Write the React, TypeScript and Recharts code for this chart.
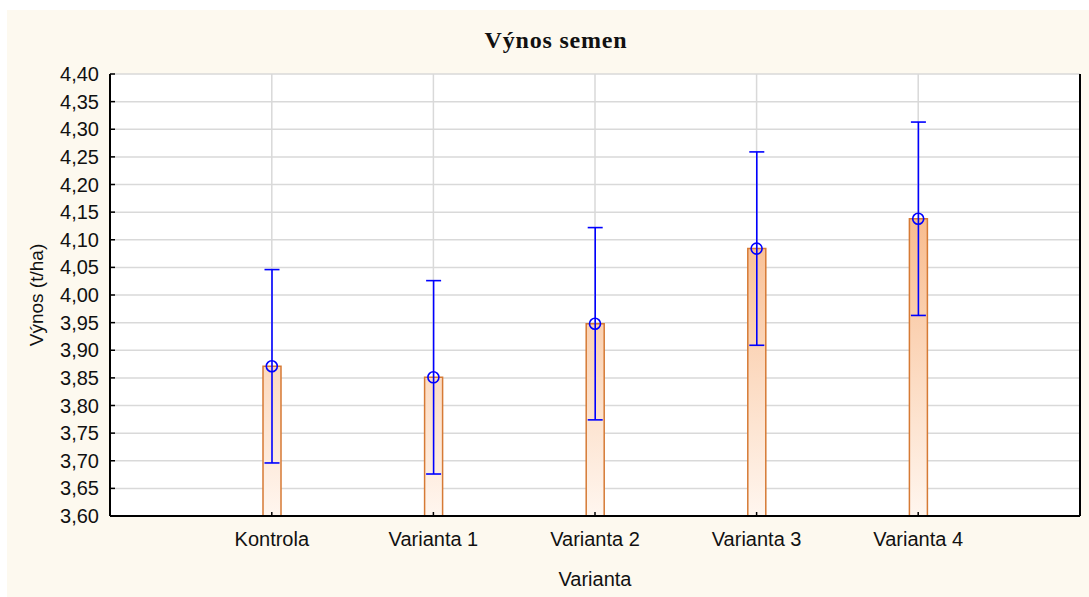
import React from 'react';
import { ComposedChart, Bar, ErrorBar, Line, XAxis, YAxis, CartesianGrid, Label } from 'recharts';

const categories = ['Kontrola', 'Varianta 1', 'Varianta 2', 'Varianta 3', 'Varianta 4'];
const means = [3.871, 3.851, 3.948, 4.084, 4.138];
const ciHalf = [0.175, 0.175, 0.174, 0.175, 0.175];
const yTicks = [3.6, 3.65, 3.7, 3.75, 3.8, 3.85, 3.9, 3.95, 4.0, 4.05, 4.1, 4.15, 4.2, 4.25, 4.3, 4.35, 4.4];
const title = 'Výnos semen';
const xTitle = 'Varianta';
const yTitle = 'Výnos (t/ha)';

const data = categories.map((name, i) => ({ name, mean: means[i], err: ciHalf[i] }));

const fmt = (v: number) => v.toFixed(2).replace('.', ',');

const SANS = '"Liberation Sans", Arial, sans-serif';
const textStyle = { fontFamily: SANS, fontSize: 20, fill: '#111' };

const LeftTick = (props: any) => {
  const { x, y, payload } = props;
  return (
    <g>
      <line x1={x + 11} x2={x + 16} y1={y} y2={y} stroke="#000" strokeWidth={1.5} />
      <text x={x} y={y} textAnchor="end" dominantBaseline="central" style={textStyle}>{fmt(payload.value)}</text>
    </g>
  );
};

const RightTick = (props: any) => {
  const { x, y } = props;
  return <line x1={x - 5} x2={x} y1={y} y2={y} stroke="#000" strokeWidth={1.5} />;
};

const TopTick = (props: any) => {
  const { x, y } = props;
  return <line x1={x} x2={x} y1={y} y2={y + 5} stroke="#000" strokeWidth={1.5} />;
};

const BottomTick = (props: any) => {
  const { x, y, payload } = props;
  return (
    <g>
      <line x1={x} x2={x} y1={y - 4} y2={y} stroke="#000" strokeWidth={1.5} />
      <text x={x} y={y + 30} textAnchor="middle" style={textStyle}>{payload.value}</text>
    </g>
  );
};

const YLabel = (props: any) => {
  const vb = props.viewBox || {};
  const cx = vb.x - 14;
  const cy = vb.y + vb.height / 2;
  return (
    <text x={cx} y={cy} transform={`rotate(-90, ${cx}, ${cy})`} textAnchor="middle" dominantBaseline="central"
      style={{ fontFamily: SANS, fontSize: 19, fill: '#111' }}>{yTitle}</text>
  );
};

const XLabel = (props: any) => {
  const vb = props.viewBox || {};
  const cx = vb.x + vb.width / 2;
  const cy = vb.y + 70;
  return (
    <text x={cx} y={cy} textAnchor="middle" style={textStyle}>{xTitle}</text>
  );
};

export default function App() {
  return (
    <div style={{ position: 'absolute', left: 0, top: 0, width: 1089, height: 597, overflow: 'hidden' }}>
      <div style={{ position: 'absolute', left: 7, top: 10, right: 0, bottom: 0, background: '#fdf9ef' }} />
      <div style={{
        position: 'absolute', left: 356, top: 28, width: 400, textAlign: 'center', letterSpacing: '0.8px',
        fontFamily: '"Liberation Serif", "Times New Roman", serif', fontWeight: 'bold', fontSize: 24, lineHeight: '24px', color: '#111'
      }}>{title}</div>
      <div style={{ position: 'absolute', left: 0, top: 0 }}>
        <ComposedChart width={1089} height={597} data={data} margin={{ top: 74, right: 0, bottom: 41, left: 50 }}>
          <defs>
            <linearGradient id="barGrad" gradientUnits="userSpaceOnUse" x1="0" y1="74" x2="0" y2="516">
              <stop offset="0%" stopColor="#f5a060" />
              <stop offset="100%" stopColor="#fff6ef" />
            </linearGradient>
          </defs>
          <CartesianGrid stroke="#d9d9d9" strokeWidth={1.5} fill="#ffffff" />
          <XAxis dataKey="name" type="category" padding={{ left: 81, right: 81 }} height={40}
            axisLine={{ stroke: '#000', strokeWidth: 2 }} tickLine={false}
            tickSize={0} tickMargin={0} tick={<BottomTick />} interval={0}>
            <Label content={<XLabel />} />
          </XAxis>
          <XAxis xAxisId="top" orientation="top" dataKey="name" type="category" padding={{ left: 81, right: 81 }} height={0}
            axisLine={{ stroke: '#000', strokeWidth: 2 }} tickLine={false}
            tickSize={0} tickMargin={0} tick={<TopTick />} interval={0} />
          <YAxis type="number" domain={[3.6, 4.4]} ticks={yTicks} interval={0} width={60}
            axisLine={{ stroke: '#000', strokeWidth: 2 }} tickLine={false}
            tickSize={0} tickMargin={11} tick={<LeftTick />}>
            <Label content={<YLabel />} />
          </YAxis>
          <YAxis yAxisId="r" orientation="right" type="number" domain={[3.6, 4.4]} ticks={yTicks} interval={0} width={9}
            axisLine={{ stroke: '#000', strokeWidth: 2 }} tickLine={false}
            tickSize={0} tickMargin={0} tick={<RightTick />} />
          <Bar dataKey="mean" barSize={18} fill="url(#barGrad)" stroke="#d67a35" strokeWidth={1.5} isAnimationActive={false}>
            <ErrorBar dataKey="err" direction="y" width={7.5} stroke="#0000ff" strokeWidth={1.6} />
          </Bar>
          <Line dataKey="mean" stroke="none" isAnimationActive={false} activeDot={false}
            dot={{ r: 5.5, stroke: '#0000ff', strokeWidth: 1.6, fill: 'none' }} />
        </ComposedChart>
      </div>
    </div>
  );
}
